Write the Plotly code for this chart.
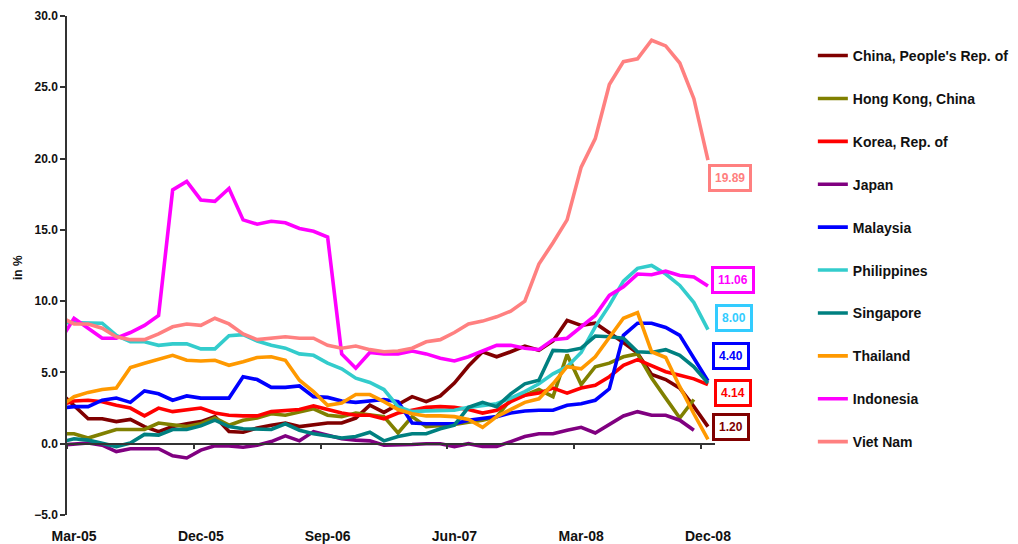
import plotly.graph_objects as go
import pandas as pd

# Categories: monthly, Feb-05 (partly hidden left of the axis) to Dec-08
months = [d.strftime("%b-%y") for d in pd.date_range("2005-02-01", "2008-12-01", freq="MS")]
tick_labels = ["Mar-05", "Dec-05", "Sep-06", "Jun-07", "Mar-08", "Dec-08"]

china = [3.6, 2.7, 1.75, 1.75, 1.55, 1.7, 1.2, 0.85, 1.2, 1.4, 1.55, 1.9, 0.85,
         0.8, 1.1, 1.3, 1.45, 1.2, 1.35, 1.45, 1.45, 1.8, 2.7, 2.2,
         2.75, 3.3, 2.95, 3.35, 4.25, 5.45, 6.45, 6.1, 6.45, 6.85, 6.55, 7.2,
         8.65, 8.3, 8.45, 7.8, 7.1, 6.35, 4.85, 4.5, 3.9, 2.6, 1.2]
hong_kong = [0.7, 0.7, 0.4, 0.7, 1.0, 1.0, 1.0, 1.45, 1.3, 1.2, 1.4, 1.8, 1.3,
             1.65, 1.8, 2.1, 2.0, 2.25, 2.45, 2.0, 1.9, 2.15, 2.0, 1.9,
             0.75, 1.9, 1.2, 1.25, 1.35, 1.5, 1.65, 1.9, 3.1, 3.4, 3.8, 3.3,
             6.25, 4.15, 5.4, 5.65, 6.1, 6.3, 4.6, 3.2, 1.8, 3.1, None]
korea = [2.7, 3.0, 3.05, 2.95, 2.7, 2.5, 1.95, 2.5, 2.25, 2.4, 2.5, 2.15, 2.0,
         1.95, 1.95, 2.25, 2.35, 2.4, 2.65, 2.4, 2.15, 2.0, 2.0, 1.75,
         2.15, 2.35, 2.55, 2.6, 2.55, 2.4, 2.15, 2.35, 2.95, 3.4, 3.55, 3.9,
         3.55, 3.9, 4.1, 4.7, 5.5, 5.9, 5.5, 5.05, 4.8, 4.55, 4.14]
japan = [-0.1, 0.0, 0.05, -0.1, -0.55, -0.35, -0.35, -0.35, -0.85, -1.0, -0.45, -0.15, -0.15,
         -0.25, -0.1, 0.15, 0.55, 0.2, 0.85, 0.6, 0.35, 0.25, 0.2, -0.1,
         -0.1, -0.05, 0.0, 0.0, -0.2, 0.0, -0.2, -0.2, 0.15, 0.5, 0.7, 0.7,
         0.95, 1.15, 0.75, 1.35, 1.95, 2.25, 2.0, 2.0, 1.65, 0.95, None]
malaysia = [2.5, 2.6, 2.6, 3.05, 3.2, 2.9, 3.7, 3.5, 3.05, 3.35, 3.2, 3.2, 3.2,
            4.7, 4.5, 3.95, 3.95, 4.05, 3.3, 3.25, 3.0, 2.9, 3.0, 3.1,
            2.95, 1.45, 1.4, 1.4, 1.4, 1.65, 1.8, 1.9, 2.15, 2.3, 2.35, 2.35,
            2.7, 2.8, 3.05, 3.85, 7.6, 8.45, 8.45, 8.15, 7.6, 5.95, 4.4]
philippines = [8.5, 8.5, 8.5, 8.45, 7.6, 7.15, 7.15, 6.9, 7.0, 7.0, 6.65, 6.65, 7.57,
               7.65, 7.2, 6.9, 6.7, 6.3, 6.2, 5.65, 5.25, 4.6, 4.3, 3.8,
               2.6, 2.25, 2.3, 2.35, 2.35, 2.55, 2.7, 2.8, 3.2, 3.65, 4.2, 4.9,
               5.4, 6.4, 8.2, 9.7, 11.4, 12.3, 12.5, 11.9, 11.1, 9.9, 8.0]
singapore = [0.1, 0.35, 0.25, 0.0, -0.2, 0.05, 0.65, 0.6, 1.0, 1.0, 1.25, 1.65, 1.2,
             1.05, 1.0, 1.0, 1.4, 0.95, 0.7, 0.55, 0.4, 0.5, 0.8, 0.2,
             0.5, 0.7, 0.7, 1.05, 1.3, 2.55, 2.9, 2.6, 3.5, 4.2, 4.45, 6.55,
             6.5, 6.7, 7.55, 7.5, 7.4, 6.45, 6.4, 6.6, 6.2, 5.4, 4.25]
thailand = [2.6, 3.3, 3.6, 3.8, 3.9, 5.35, 5.65, 5.95, 6.2, 5.85, 5.8, 5.85, 5.5,
            5.75, 6.05, 6.1, 5.85, 4.45, 3.65, 2.7, 2.85, 3.45, 3.45, 2.95,
            2.4, 2.1, 1.95, 1.95, 1.9, 1.7, 1.15, 1.9, 2.4, 2.9, 3.15, 4.2,
            5.4, 5.25, 6.1, 7.5, 8.8, 9.2, 6.45, 6.05, 4.0, 2.1, 0.3]
indonesia = [7.2, 8.8, 8.1, 7.4, 7.4, 7.8, 8.3, 9.0, 17.8, 18.4, 17.1, 17.0, 17.9,
             15.7, 15.4, 15.6, 15.5, 15.1, 14.9, 14.5, 6.3, 5.3, 6.4, 6.3,
             6.3, 6.5, 6.3, 6.0, 5.8, 6.1, 6.5, 6.9, 6.9, 6.7, 6.6, 7.3,
             7.4, 8.2, 9.0, 10.4, 11.0, 11.9, 11.85, 12.1, 11.8, 11.7, 11.06]
viet_nam = [8.9, 8.4, 8.4, 8.1, 7.5, 7.3, 7.3, 7.7, 8.2, 8.4, 8.3, 8.8, 8.4,
            7.7, 7.3, 7.4, 7.5, 7.4, 7.4, 6.9, 6.7, 6.85, 6.6, 6.45,
            6.5, 6.7, 7.15, 7.3, 7.8, 8.4, 8.6, 8.9, 9.3, 10.0, 12.6, 14.1,
            15.7, 19.4, 21.4, 25.2, 26.8, 27.0, 28.3, 27.9, 26.7, 24.2, 19.89]

series = [
    ("China, People's Rep. of", china, "#800000"),
    ("Hong Kong, China", hong_kong, "#808000"),
    ("Korea, Rep. of", korea, "#FF0000"),
    ("Japan", japan, "#800080"),
    ("Malaysia", malaysia, "#0000FF"),
    ("Philippines", philippines, "#33CCCC"),
    ("Singapore", singapore, "#008080"),
    ("Thailand", thailand, "#FF9900"),
    ("Indonesia", indonesia, "#FF00FF"),
    ("Viet Nam", viet_nam, "#FF8080"),
]

# End-label styling: (box colour, xshift, yshift)
end_labels = {
    "Viet Nam": ("#FF8080", 22, -18),
    "Indonesia": ("#FF00FF", 25, 6),
    "Philippines": ("#33CCFF", 26, 12),
    "Malaysia": ("#0000FF", 23, 25),
    "Korea, Rep. of": ("#FF0000", 25, -8),
    "China, People's Rep. of": ("#800000", 23, 0),
}

FONT = "Arial, Liberation Sans, sans-serif"

fig = go.Figure()
for name, vals, color in series:
    fig.add_trace(go.Scatter(
        x=months, y=vals, name=name, mode="lines",
        line=dict(color=color, width=3.6),
        legendgroup=name, connectgaps=False,
    ))

annotations = []
for name, vals, color in series:
    if name in end_labels:
        bcol, xs, ys = end_labels[name]
        annotations.append(dict(
            x=months[-1], y=vals[-1], xref="x", yref="y",
            text=f"{vals[-1]:.2f}", showarrow=False,
            xshift=xs, yshift=ys,
            font=dict(family=FONT, size=12, color=bcol, weight="bold"),
            bordercolor=bcol, borderwidth=3, borderpad=4,
            bgcolor="white",
        ))

annotations.append(dict(
    x=-0.0756, y=0.495, xref="paper", yref="paper", text="in %",
    xanchor="center", yanchor="middle",
    textangle=-90, showarrow=False,
    font=dict(family=FONT, size=12, color="#111", weight="bold"),
))

fig.update_layout(
    width=1018, height=544,
    margin=dict(l=67, r=303, t=16, b=29, autoexpand=False),
    paper_bgcolor="white", plot_bgcolor="white",
    font=dict(family=FONT, size=12, color="#111", weight="bold"),
    showlegend=True,
    legend=dict(
        x=1.151, y=0.952, xanchor="left", yanchor="top",
        traceorder="grouped", tracegroupgap=21.7,
        font=dict(family=FONT, size=14, color="#111", weight="bold"),
        bgcolor="rgba(0,0,0,0)", itemwidth=30,
    ),
    xaxis=dict(
        type="category", categoryorder="array", categoryarray=months,
        range=[0.5, len(months) - 0.5],
        anchor="free", position=5 / 35,
        showline=True, linecolor="#333", linewidth=1.5,
        ticks="outside", ticklen=5, tickcolor="#333", tickwidth=1.5,
        tickson="boundaries",
        tickmode="linear", tick0=months.index(tick_labels[0]), dtick=9,
        tickangle=0,
        ticklabelstandoff=80,
        showgrid=False, zeroline=False,
        tickfont=dict(family=FONT, size=14, color="#111", weight="bold"),
        automargin=False,
    ),
    yaxis=dict(
        range=[-5, 30], dtick=5, tick0=0, tickformat=".1f",
        showline=True, linecolor="#333", linewidth=1.5,
        ticks="outside", ticklen=5, tickcolor="#333", tickwidth=1.5,
        showgrid=False, zeroline=False,
        tickfont=dict(family=FONT, size=12, color="#111", weight="bold"),
        automargin=False,
    ),
    annotations=annotations,
)

fig.write_html("out.html", config={"displayModeBar": False},
               post_script="document.body.style.margin='0';")
